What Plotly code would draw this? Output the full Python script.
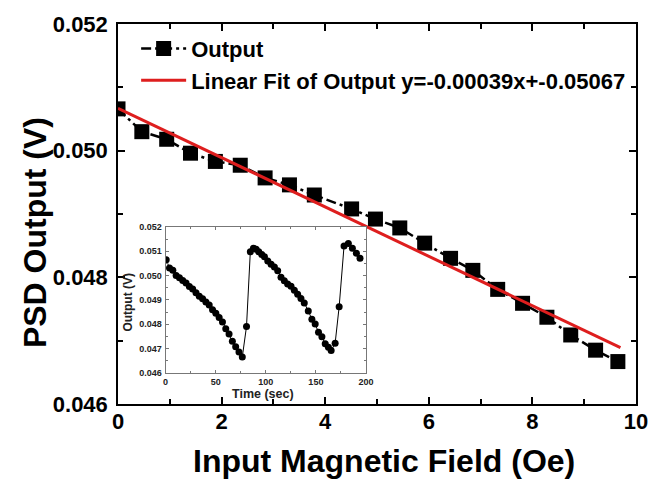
import plotly.graph_objects as go

# ---- main data ----
field_oe = [0.0, 0.46, 0.94, 1.40, 1.88, 2.36, 2.84, 3.31, 3.79, 4.51, 4.97,
            5.44, 5.92, 6.42, 6.85, 7.33, 7.81, 8.28, 8.74, 9.22, 9.65]
psd_output = [0.05066, 0.05030, 0.05018, 0.04996, 0.04983, 0.04977, 0.04957,
              0.04946, 0.04930, 0.04908, 0.04892, 0.04878, 0.04854, 0.04830,
              0.04811, 0.04781, 0.04759, 0.04737, 0.04709, 0.04685, 0.04667]
fit_x = [0.0, 9.7]
fit_y = [0.05067, 0.04689]
fit_label = "Linear Fit of Output y=-0.00039x+-0.05067"

# ---- inset data ----
time_sec = [0.7, 4.0, 7.3, 10.6, 13.9, 17.2, 20.5, 23.8, 27.1, 30.4, 33.7, 37.0,
            40.3, 43.6, 46.9, 50.2, 53.5, 56.8, 60.1, 63.4, 66.7, 70.0, 73.3, 76.6,
            80.8, 84.6, 87.7, 90.4, 93.0, 96.0, 98.7, 102.0, 105.3, 108.6, 111.9,
            115.2, 118.5, 121.8, 125.2, 128.5, 131.8, 135.1, 138.4, 142.4, 146.0,
            149.3, 152.6, 156.0, 159.3, 162.5, 165.2, 169.2, 173.2, 178.1, 182.4,
            186.4, 190.4, 194.0]
inset_output = [0.05065, 0.05031, 0.05022, 0.05000, 0.04991, 0.04980, 0.04970,
                0.04955, 0.04945, 0.04930, 0.04915, 0.04905, 0.04892, 0.04879,
                0.04860, 0.04845, 0.04828, 0.04810, 0.04782, 0.04760, 0.04730,
                0.04708, 0.04686, 0.04666, 0.04791, 0.05098, 0.05112, 0.05108,
                0.05098, 0.05087, 0.05077, 0.05060, 0.05047, 0.05035, 0.05020,
                0.04993, 0.04979, 0.04966, 0.04956, 0.04940, 0.04923, 0.04906,
                0.04888, 0.04855, 0.04821, 0.04801, 0.04767, 0.04749, 0.04720,
                0.04706, 0.04692, 0.04722, 0.04872, 0.05122, 0.05132, 0.05112,
                0.05092, 0.05071]

FONT = "Arial, 'Liberation Sans', sans-serif"

fig = go.Figure()

fig.add_trace(go.Scatter(
    x=field_oe, y=psd_output, name="Output", mode="lines+markers",
    line=dict(color="black", width=2.5, dash="10px,4px,3px,4px"),
    marker=dict(symbol="square", size=15, color="black"),
    xaxis="x", yaxis="y"))
fig.add_trace(go.Scatter(
    x=fit_x, y=fit_y, name=fit_label, mode="lines",
    line=dict(color="rgb(222,30,30)", width=3),
    xaxis="x", yaxis="y"))

fig.add_trace(go.Scatter(
    x=time_sec, y=inset_output, mode="lines+markers", showlegend=False,
    line=dict(color="black", width=1),
    marker=dict(symbol="circle", size=7, color="black"),
    xaxis="x2", yaxis="y2"))

axis_common = dict(showline=True, linecolor="black", linewidth=1.5, mirror="allticks",
                   ticks="inside", ticklen=7, tickwidth=1.5, tickcolor="black",
                   showgrid=False, zeroline=False,
                   tickfont=dict(family=FONT, size=22, color="black", weight="bold"))

fig.update_layout(
    width=660, height=483,
    margin=dict(l=118, r=22, t=20, b=79),
    paper_bgcolor="white", plot_bgcolor="white",
    font=dict(family=FONT, color="black"),
    xaxis=dict(range=[0, 10], dtick=2, tick0=0, domain=[0, 1],
               minor=dict(dtick=1, ticks="inside", ticklen=5, tickcolor="black", tickwidth=1.5),
               ticklabelstandoff=-3, **axis_common),
    yaxis=dict(range=[0.046, 0.052], dtick=0.002, tick0=0.046, tickformat=".3f",
               domain=[0, 1],
               minor=dict(dtick=0.001, ticks="inside", ticklen=5, tickcolor="black", tickwidth=1.5),
               ticklabelstandoff=4, **axis_common),
    xaxis2=dict(range=[0, 200], dtick=50, tick0=0, domain=[0.0917, 0.4788], anchor="y2",
                showline=True, linecolor="#777", linewidth=1, mirror="allticks",
                ticks="inside", ticklen=3, tickcolor="#777", showgrid=False, zeroline=False,
                minor=dict(dtick=25, ticks="inside", ticklen=2, tickcolor="#777"),
                tickfont=dict(family=FONT, size=9, color="#222", weight="bold"),
                ticklabelstandoff=0),
    yaxis2=dict(range=[0.046, 0.052], dtick=0.001, tick0=0.046, tickformat=".3f",
                domain=[0.0815, 0.4661], anchor="x2",
                showline=True, linecolor="#777", linewidth=1, mirror="allticks",
                ticks="inside", ticklen=3, tickcolor="#777", showgrid=False, zeroline=False,
                minor=dict(dtick=0.0005, ticks="inside", ticklen=2, tickcolor="#777"),
                tickfont=dict(family=FONT, size=9, color="#222", weight="bold"),
                ticklabelstandoff=1),
    legend=dict(x=0.035, y=0.99, xanchor="left", yanchor="top",
                bgcolor="rgba(0,0,0,0)", borderwidth=0, itemwidth=45,
                tracegroupgap=0,
                font=dict(family=FONT, size=22, color="black", weight="bold")),
    showlegend=True,
)

annotations = [
    dict(text="Input Magnetic Field (Oe)", x=0.513, y=-0.203, xref="paper", yref="paper",
         xanchor="center", yanchor="bottom", showarrow=False,
         font=dict(family=FONT, size=32, color="black", weight="bold")),
    dict(text="PSD Output (V)", x=-0.16, y=0.45, xref="paper", yref="paper",
         xanchor="center", yanchor="middle", showarrow=False, textangle=-90,
         font=dict(family=FONT, size=32, color="black", weight="bold")),
    dict(text="Output (V)", x=0.019, y=0.269, xref="paper", yref="paper",
         xanchor="center", yanchor="middle", showarrow=False, textangle=-90,
         font=dict(family=FONT, size=12, color="#222", weight="bold")),
    dict(text="Time (sec)", x=0.2795, y=0.026, xref="paper", yref="paper",
         xanchor="center", yanchor="middle", showarrow=False,
         font=dict(family=FONT, size=12.5, color="#222", weight="bold")),
]
fig.update_layout(annotations=annotations)

fig.write_html("out.html")
